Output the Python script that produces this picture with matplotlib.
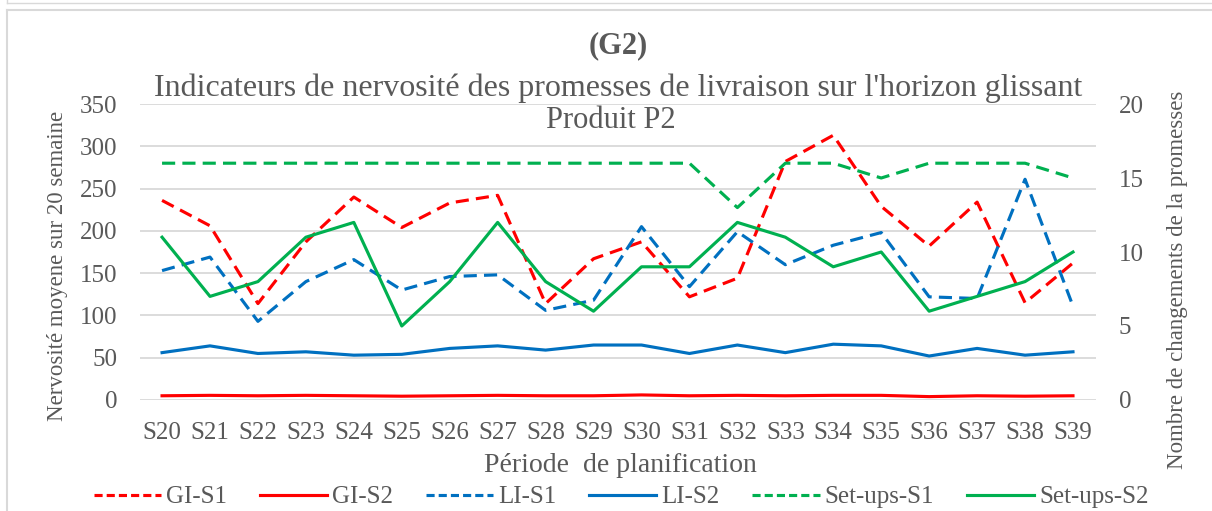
import numpy as np
import matplotlib
matplotlib.use("Agg")
import matplotlib.pyplot as plt
from matplotlib.lines import Line2D

# Semaines de planification
periods = [f"S{i}" for i in range(20, 40)]

# Nervosité (axe gauche)
gi_s1 = [236, 206, 114, 187, 240, 204, 233, 242, 114, 167, 187, 122, 144, 282, 313, 229, 182, 234, 115, 162]
gi_s2 = [5, 5.5, 5, 5.5, 5, 4.5, 5, 5.5, 5, 5, 6, 5, 5.5, 5, 5.5, 5.5, 4, 5, 4.5, 5]
li_s1 = [153, 169, 93, 140, 166, 130, 146, 148, 106, 118, 205, 134, 199, 160, 183, 198, 122, 120, 261, 111]
li_s2 = [56, 64, 55, 57, 53, 54, 61, 64, 59, 65, 65, 55, 65, 56, 66, 64, 52, 61, 53, 57]

# Nombre de changements (axe droit)
setups_s1 = [16, 16, 16, 16, 16, 16, 16, 16, 16, 16, 16, 16, 13, 16, 16, 15, 16, 16, 16, 15]
setups_s2 = [11, 7, 8, 11, 12, 5, 8, 12, 8, 6, 9, 9, 12, 11, 9, 10, 6, 7, 8, 10]

RED = "#FF0000"
BLUE = "#0070C0"
GREEN = "#00B050"
TXT = "#595959"
GRID = "#D9D9D9"

plt.rcParams["font.family"] = ["Liberation Serif", "DejaVu Serif"]

W, H = 1212, 511
fig = plt.figure(figsize=(W / 100, H / 100), dpi=100)

def fx(px):
    return px / W

def fy(py):
    return 1 - py / H

# cadre du graphique
fig.add_artist(Line2D([fx(7), 1], [fy(3), fy(3)], color=GRID, lw=1.0))
fig.add_artist(Line2D([fx(7), fx(7)], [1, fy(3)], color=GRID, lw=1.0))
fig.add_artist(Line2D([fx(7), 1], [fy(10), fy(10)], color=GRID, lw=1.5))
fig.add_artist(Line2D([fx(7), fx(7)], [fy(10), 0], color=GRID, lw=1.5))

AX_L, AX_R, AX_T, AX_B = 140, 1096, 104, 400
ax = fig.add_axes([fx(AX_L), fy(AX_B), fx(AX_R) - fx(AX_L), fy(AX_T) - fy(AX_B)])
ax2 = ax.twinx()

x = np.arange(len(periods))
dash = (4.2, 2.3)
lw = 2.25

l1, = ax.plot(x, gi_s1, color=RED, lw=lw, dashes=dash, label="GI-S1")
l2, = ax.plot(x, gi_s2, color=RED, lw=lw, label="GI-S2")
l3, = ax.plot(x, li_s1, color=BLUE, lw=lw, dashes=dash, label="LI-S1")
l4, = ax.plot(x, li_s2, color=BLUE, lw=lw, label="LI-S2")
l5, = ax2.plot(x, setups_s1, color=GREEN, lw=lw, dashes=dash, label="Set-ups-S1")
l6, = ax2.plot(x, setups_s2, color=GREEN, lw=lw, label="Set-ups-S2")

ax.set_ylim(0, 350)
ax.set_yticks(np.arange(0, 351, 50))
ax2.set_ylim(0, 20)
ax2.set_yticks(np.arange(0, 21, 5))
ax.set_xlim(-0.46, len(periods) - 1 + 0.48)
ax.set_xticks(x)
ax.set_xticklabels(periods)

ax.yaxis.grid(True, color=GRID, lw=1.3)
ax.set_axisbelow(True)
for a in (ax, ax2):
    for s in a.spines.values():
        s.set_visible(False)
    a.tick_params(length=0, labelsize=18, labelcolor=TXT)
ax.tick_params(axis="y", pad=16.5)
ax.tick_params(axis="x", pad=16)
ax2.tick_params(axis="y", pad=16.5)

# positions des titres d'axes en coordonnées de l'axe
def ax_x(px):
    return (px - AX_L) / (AX_R - AX_L)

def ax_y(py):
    return (AX_B - py) / (AX_B - AX_T)

ax.set_ylabel("Nervosité moyene sur 20 semaine", fontsize=16.5, color=TXT)
ax.yaxis.set_label_coords(ax_x(68), ax_y(266))
ax2.set_ylabel("Nombre de changements de la promesses", fontsize=16.5, color=TXT)
ax2.yaxis.set_label_coords(ax_x(1167), ax_y(280))

fig.text(fx(620), fy(466), "Période  de planification", ha="center", va="center",
         fontsize=20, color=TXT)

fig.text(fx(618), fy(46), "(G2)", ha="center", va="center", fontsize=22,
         fontweight="bold", color=TXT)
fig.text(fx(618), fy(88), "Indicateurs de nervosité des promesses de livraison sur l'horizon glissant",
         ha="center", va="center", fontsize=23, color=TXT)
fig.text(fx(611), fy(120), "Produit P2", ha="center", va="center", fontsize=22, color=TXT)

# légende avec des tirets plus courts
handles = []
for ln in (l1, l2, l3, l4, l5, l6):
    h = Line2D([], [], color=ln.get_color(), lw=lw, label=ln.get_label())
    if ln.get_linestyle() != "-":
        h.set_dashes((2.6, 1.3))
    handles.append(h)
fig.legend(handles=handles, loc="center", bbox_to_anchor=(fx(621), fy(497)), ncol=6,
           frameon=False, fontsize=18, labelcolor=TXT, handlelength=2.7,
           handletextpad=0.2, columnspacing=1.3, borderaxespad=0, borderpad=0)

fig.savefig("out.png", dpi=100)
